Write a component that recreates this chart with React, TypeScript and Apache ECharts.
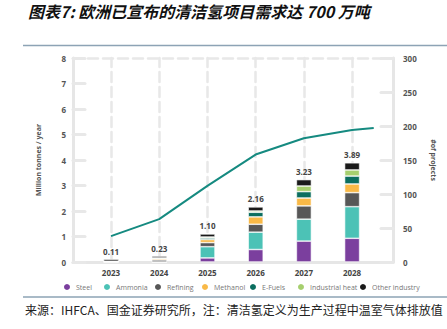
import React, { useEffect, useRef } from "react";
import * as echarts from "echarts";

const years = [2023, 2024, 2025, 2026, 2027, 2028];
const seriesNames = ["Steel", "Ammonia", "Refining", "Methanol", "E-Fuels", "Industrial heat", "Other industry"];
const steel = [0, 0, 0.16, 0.49, 0.82, 0.93];
const ammonia = [0, 0, 0.44, 0.68, 0.86, 1.24];
const refining = [0.03, 0.08, 0.16, 0.31, 0.52, 0.55];
const methanol = [0, 0.05, 0.12, 0.29, 0.31, 0.34];
const eFuels = [0, 0, 0.06, 0.18, 0.25, 0.31];
const industrialHeat = [0, 0.03, 0.04, 0.05, 0.22, 0.24];
const otherIndustry = [0.08, 0.07, 0.12, 0.16, 0.25, 0.28];
const totals = [0.11, 0.23, 1.1, 2.16, 3.23, 3.89];
const projectYears = [2023, 2024, 2025, 2026, 2027, 2028, 2028.45];
const projects = [38, 63, 112, 158, 182, 194, 197];
const leftTicks = [0, 1, 2, 3, 4, 5, 6, 7, 8];
const rightTicks = [0, 50, 100, 150, 200, 250, 300];

const colors = ["#7b3f9e", "#4cc2b6", "#575757", "#f9b947", "#0b6e5f", "#a6cf6e", "#1a1a1a"];
const legendLeft = [62, 102, 153, 200, 248, 296, 358];

export default function App() {
  const ref = useRef<HTMLDivElement>(null);
  useEffect(() => {
    if (!ref.current) return;
    const chart = echarts.init(ref.current, null, { renderer: "svg" });
    const stacks = [steel, ammonia, refining, methanol, eFuels, industrialHeat, otherIndustry];
    const font = "'Open Sans', sans-serif";
    const gridLine = { color: "#e8e8e8", width: 2.5, cap: "round" as const };
    const barSeries = stacks.map((arr, i) => ({
      name: seriesNames[i],
      type: "bar",
      stack: "total",
      xAxisIndex: 1,
      yAxisIndex: 2,
      barWidth: 15,
      z: 10,
      itemStyle: { color: colors[i], borderColor: "#fff", borderWidth: 0.6 },
      data: arr,
      label:
        i === stacks.length - 1
          ? {
              show: true,
              position: "top",
              distance: 4,
              fontFamily: font,
              fontWeight: "bold",
              fontSize: 8,
              color: "#444",
              formatter: (p: any) => totals[p.dataIndex].toFixed(2),
            }
          : { show: false },
    }));
    chart.setOption({
      animation: false,
      grid: [
        { left: 73, right: 54, top: 58, bottom: 67 },
        { left: 87, right: 70.8, top: 58, bottom: 67 },
      ],
      legend: seriesNames.map((n, i) => ({
        data: [n],
        left: legendLeft[i],
        top: 282,
        icon: "circle",
        itemWidth: 8,
        itemHeight: 8,
        itemGap: 4,
        padding: 0,
        textStyle: { fontSize: 7, color: "#777", fontFamily: font },
      })),
      xAxis: [
        {
          type: "value",
          gridIndex: 0,
          min: 2022.212,
          max: 2028.85,
          axisLine: { show: true, lineStyle: { color: "#e6e6e6", width: 3 } },
          axisTick: { show: false },
          splitLine: { show: false },
          axisLabel: {
            customValues: years,
            formatter: (v: number) => String(Math.round(v)),
            fontFamily: font,
            fontWeight: "bold",
            fontSize: 8,
            color: "#444",
            margin: 6,
          },
        },
        {
          type: "category",
          gridIndex: 1,
          data: years.map(String),
          axisLine: { show: false },
          axisTick: { show: false },
          axisLabel: { show: false },
          splitLine: { show: false },
        },
      ],
      yAxis: [
        {
          type: "value",
          gridIndex: 0,
          min: 0,
          max: 8,
          interval: 1,
          position: "left",
          name: "Million tonnes / year",
          nameLocation: "middle",
          nameGap: 31,
          nameTextStyle: { fontSize: 7, color: "#555", fontFamily: font, fontWeight: "bold" },
          axisLine: { show: true, lineStyle: { color: "#e6e6e6", width: 3 } },
          axisTick: { show: true, inside: true, length: 12, lineStyle: { color: "#e8e8e8", width: 3, cap: "round" } },
          splitLine: { show: false },
          axisLabel: {
            margin: 7,
            fontFamily: font,
            fontWeight: "bold",
            fontSize: 8,
            color: "#555",
            formatter: (v: number) => (leftTicks.includes(v) ? String(v) : ""),
          },
        },
        {
          type: "value",
          gridIndex: 0,
          min: 0,
          max: 300,
          interval: 50,
          position: "right",
          name: "#of projects",
          nameLocation: "middle",
          nameRotate: -90,
          nameGap: 37,
          nameTextStyle: { fontSize: 7, color: "#555", fontFamily: font, fontWeight: "bold" },
          axisLine: { show: true, lineStyle: { color: "#e6e6e6", width: 3 } },
          axisTick: { show: true, inside: true, length: 12, lineStyle: { color: "#e8e8e8", width: 3, cap: "round" } },
          splitLine: { show: false },
          axisLabel: {
            margin: 10,
            fontFamily: font,
            fontWeight: "bold",
            fontSize: 8,
            color: "#555",
            formatter: (v: number) => (rightTicks.includes(v) ? String(v) : ""),
          },
        },
        {
          type: "value",
          gridIndex: 1,
          min: 0,
          max: 8,
          interval: 1,
          show: false,
          splitLine: { show: false },
        },
      ],
      series: [
        {
          name: "Projects",
          type: "line",
          xAxisIndex: 0,
          yAxisIndex: 1,
          z: 1,
          symbol: "none",
          lineStyle: { color: "#158a80", width: 2 },
          itemStyle: { color: "#158a80" },
          data: projectYears.map((y, i) => [y, projects[i]]),
          markLine: {
            silent: true,
            z: 0,
            symbol: "none",
            label: { show: false },
            lineStyle: gridLine,
            data: [...years.map((y) => ({ xAxis: y })), { yAxis: 300 }],
          },
        },
        ...barSeries,
      ],
      graphic: [
        {
          type: "text",
          left: 28,
          top: 3,
          style: {
            text: "图表7: 欧洲已宣布的清洁氢项目需求达 700 万吨",
            font: "italic bold 16px 'Noto Sans CJK SC', sans-serif",
            fill: "#111",
          },
        },
        {
          type: "line",
          shape: { x1: 23, y1: 45.5, x2: 447, y2: 45.5 },
          style: { stroke: "#8da3b5", lineWidth: 1.5 },
        },
        {
          type: "line",
          shape: { x1: 23, y1: 297, x2: 447, y2: 297 },
          style: { stroke: "#8da3b5", lineWidth: 1.5 },
        },
        {
          type: "text",
          left: 25,
          top: 303,
          style: {
            text: "来源：IHFCA、国金证券研究所，注：清洁氢定义为生产过程中温室气体排放值",
            font: "12px 'Noto Sans CJK SC', sans-serif",
            fill: "#222",
          },
        },
      ],
    });
    return () => chart.dispose();
  }, []);
  return <div ref={ref} style={{ width: 447, height: 329, position: "absolute", left: 0, top: 0 }} />;
}
